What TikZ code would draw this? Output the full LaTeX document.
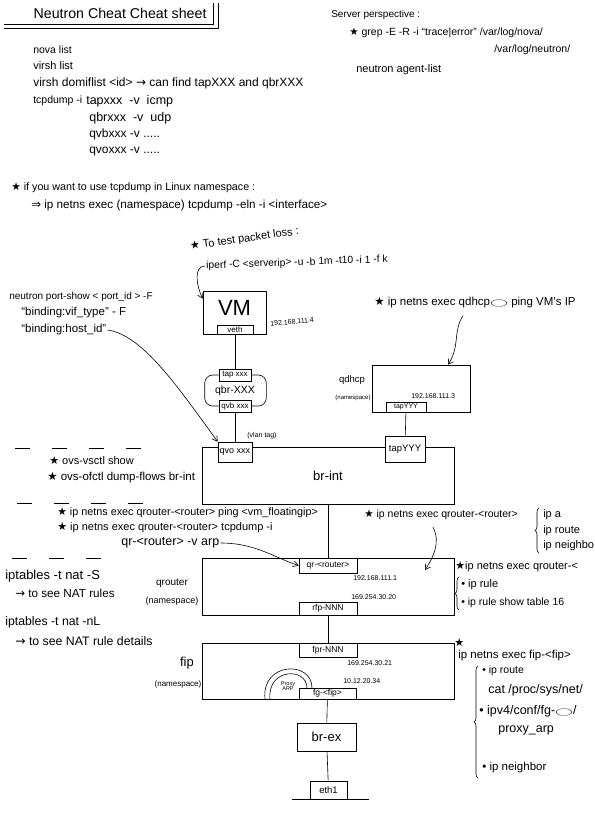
\documentclass[tikz,border=0pt]{standalone}
\usepackage{fontspec}
\setmainfont{Liberation Sans}
\newfontfamily\symfont{DejaVu Sans}
\usepackage{graphicx}
\usetikzlibrary{arrows.meta,positioning,decorations.pathreplacing,calc}

\newcommand{\starmark}{{\symfont\char"2605}}
\newcommand{\ovalmark}{\scalebox{1.5}[0.65]{$\bigcirc$}}
\newcommand{\fsz}[1]{\fontsize{#1}{#1}\selectfont}

\tikzset{
    every picture/.style={
        line width=0.6pt,
        >={Straight Barb[length=5pt,width=6pt]}
    },
    % text styles
    note/.style={anchor=west,inner sep=1pt,font=\fsz{11}},
    smallnote/.style={anchor=west,inner sep=1pt,font=\fsz{10.5}},
    iplabel/.style={anchor=west,inner sep=1pt,font=\fsz{7}},
    nslabel/.style={inner sep=1pt,font=\fsz{7}},
    % box styles
    nsbox/.style={draw,minimum width=252pt,minimum height=57pt},
    port/.style={draw,fill=white,inner sep=0pt,font=\fsz{8}},
    % line styles
    hint/.style={->},
    bracegroup/.style={decorate,decoration={brace,amplitude=4pt}},
    separator/.style={dash pattern=on 15pt off 22pt}
}

\begin{document}
\begin{tikzpicture}[x=1pt,y=-1pt]
\useasboundingbox (0,0) rectangle (595,815);

% Title with double frame
\node[anchor=west,font=\fsz{14.2}] at (30,13) (title) {Neutron Cheat Cheat sheet};
\draw (4,24) -- (213,24) -- (213,3);
\draw (4,28) -- (218,28) -- (218,3);

% Basic commands
\node[note,font=\fsz{10.5}] at (32,50) (nova) {nova list};
\node[note] at (32,66) (virsh) {virsh list};
\node[note,font=\fsz{12}] at (32,83) (domif) {virsh domiflist <id> {\symfont →} can find tapXXX and qbrXXX};
\node[note,font=\fsz{10.5}] at (32,101) (tcpdump) {tcpdump -i};
\node[note,font=\fsz{12.5}] at (85,101) (tcptap) {tapxxx\ \ -v\ \ icmp};
\node[note,font=\fsz{12.5}] at (88,118) (tcpqbr) {qbrxxx\ \ -v\ \ udp};
\node[note,font=\fsz{12}] at (88,134) (tcpqvb) {qvbxxx -v .....};
\node[note,font=\fsz{12}] at (88,152) (tcpqvo) {qvoxxx -v .....};

% Server side
\node[smallnote,font=\fsz{10}] at (330,15) (server) {Server perspective :};
\node[smallnote] at (348,33) (grep) {\starmark{} grep -E -R -i ``trace|error'' /var/log/nova/};
\node[smallnote] at (493,50) (grepneutron) {/var/log/neutron/};
\node[smallnote,font=\fsz{11}] at (355,70) (agents) {neutron agent-list};

% Namespace tcpdump
\node[note,font=\fsz{10.7}] at (10,188) (nstip) {\starmark{} if you want to use tcpdump in Linux namespace :};
\node[note,font=\fsz{11.7}] at (30,205) (nscmd) {{\symfont ⇒} ip netns exec (namespace) tcpdump -eln -i <interface>};

% Packet loss test
\node[smallnote,font=\fsz{11},rotate=8] at (189,247) (losstip) {\starmark{} To test packet loss :};
\node[anchor=west,inner sep=1pt,font=\fsz{10.3},rotate=2] at (205,266) (iperf) {iperf -C <serverip> -u -b 1m -t10 -i 1 -f k};

% Compute side: VM and qbr
\node[draw,minimum width=63pt,minimum height=43pt,label={[yshift=5pt,font=\fsz{22}]center:VM}] at (234.5,312.5) (vm) {};
\node[port,minimum width=36pt,minimum height=9pt] at (235,329.5) (veth) {veth};
\node[iplabel,rotate=5] at (269,324) (vmip) {192.168.111.4};
\node[port,minimum width=32pt,minimum height=12pt] at (235,375) (tapx) {tap xxx};
\node[port,minimum width=32pt,minimum height=12pt] at (235,406) (qvbx) {qvb xxx};
\node[font=\fsz{10.5}] at (235,391) (qbr) {qbr-XXX};
\draw[rounded corners=8pt] (tapx.west) -- ++(-14,0) |- (qvbx.west);
\draw[rounded corners=8pt] (tapx.east) -- ++(15,0) |- (qvbx.east);

% port-show hint
\node[note,font=\fsz{10}] at (8,297) (portshow) {neutron port-show < port\_id > -F};
\node[smallnote,font=\fsz{11.5}] at (20,313) (viftype) {``binding:vif\_type'' - F};
\node[smallnote,font=\fsz{11.5}] at (20,330) (hostid) {``binding:host\_id''};

% br-int
\node[nsbox,font=\fsz{13}] at (328,475.5) (brint) {br-int};
\node[port,minimum width=34pt,minimum height=20pt,font=\fsz{9}] at (235,452) (qvox) {qvo xxx};
\node[nslabel] at (262,436) (vlantag) {(vlan tag)};
\node[port,minimum width=40pt,minimum height=26pt,font=\fsz{9.5}] at (405,449) (tapyint) {tapYYY};

% qdhcp namespace
\node[draw,minimum width=98pt,minimum height=47pt] at (421,388.5) (qdhcp) {};
\node[font=\fsz{9.5}] at (352,380) (qdhcpname) {qdhcp};
\node[nslabel,font=\fsz{6}] at (353,398) (qdhcpns) {(namespace)};
\node[port,minimum width=40pt,minimum height=10pt,font=\fsz{7}] at (406,407) (tapydhcp) {tapYYY};
\node[iplabel] at (410,396) (dhcpip) {192.168.111.3};
\node[smallnote,font=\fsz{11.5}] at (373,303) (dhcpping) {\starmark{} ip netns exec qdhcp\ovalmark{} ping VM's IP};

% ovs commands
\draw[separator] (15,448) -- (152,448);
\node[smallnote,font=\fsz{11}] at (48,461) (vsctl) {\starmark{} ovs-vsctl show};
\node[smallnote,font=\fsz{11.5}] at (46,478) (ofctl) {\starmark{} ovs-ofctl dump-flows br-int};
\draw[separator] (17,503) -- (152,503);

% qrouter namespace
\node[nsbox] at (328.5,586.5) (qrouter) {};
\node[port,minimum width=58pt,minimum height=15pt,font=\fsz{8.5}] at (328,565.5) (qr) {qr-<router>};
\node[port,minimum width=58pt,minimum height=13pt,font=\fsz{8.5}] at (328,608.5) (rfp) {rfp-NNN};
\node[iplabel] at (352,578) (qrip) {192.168.111.1};
\node[iplabel] at (350,597) (rfpip) {169.254.30.20};
\node[font=\fsz{10}] at (172,583) (qroutername) {qrouter};
\node[nslabel,font=\fsz{9}] at (172,601) (qrouterns) {(namespace)};

\node[smallnote,font=\fsz{10.8}] at (56,513) (qrping) {\starmark{} ip netns exec qrouter-<router> ping <vm\_floatingip>};
\node[smallnote,font=\fsz{11}] at (56,528) (qrtcp) {\starmark{} ip netns exec qrouter-<router> tcpdump -i};
\node[smallnote,font=\fsz{12.5}] at (120,543) (qrarp) {qr-<router> -v arp};
\draw[separator] (12,558) -- (118,558);

\node[smallnote] at (363,515) (qrcmd) {\starmark{} ip netns exec qrouter-<router>};
\node[smallnote,font=\fsz{11}] at (542,515) (ipa) {ip a};
\node[smallnote,font=\fsz{11}] at (542,531) (iproute) {ip route};
\node[smallnote,font=\fsz{11}] at (542,546) (ipneigh) {ip neighbo};
\draw[bracegroup] (539,553) -- (539,508);
\coordinate (qrtip) at (425,570);

\node[smallnote,font=\fsz{11}] at (454,567) (rulecmd) {\starmark{}ip netns exec qrouter-<};
\node[smallnote,font=\fsz{11}] at (460,585) (iprule) {• ip rule};
\node[smallnote] at (460,603) (ruletable) {• ip rule show table 16};
\draw[bracegroup] (459,610) -- (459,577);

% NAT rules
\node[note,font=\fsz{13}] at (4,576) (natS) {iptables -t nat -S};
\node[note,font=\fsz{11.7}] at (14,593) (natSinfo) {{\symfont →} to see NAT rules};
\node[note,font=\fsz{12.3}] at (4,622) (natL) {iptables -t nat -nL};
\node[note,font=\fsz{12.3}] at (14,641) (natLinfo) {{\symfont →} to see NAT rule details};

% fip namespace
\node[nsbox,minimum height=56pt] at (328,671) (fip) {};
\node[port,minimum width=58pt,minimum height=14pt,font=\fsz{8.5}] at (328,650) (fpr) {fpr-NNN};
\node[port,minimum width=57pt,minimum height=11pt,font=\fsz{8.5}] at (327.5,693.5) (fg) {fg-<fip>};
\node[iplabel] at (346,663) (fprip) {169.254.30.21};
\node[iplabel] at (342,681) (fgip) {10.12.20.34};
\node[font=\fsz{13}] at (187,663) (fipname) {fip};
\node[nslabel,font=\fsz{8}] at (178,684) (fipns) {(namespace)};
% proxy arp loop
\draw (265,699) .. controls (261,662) and (312,660) .. (312,688);
\draw (270,699) .. controls (267,668) and (307,667) .. (307,688);
\node[nslabel,align=center,font=\fsz{5.5}] at (288,686) (proxyarp) {Proxy\\ARP};

\node[smallnote,font=\fsz{11}] at (453,643) (fipstar) {\starmark};
\node[smallnote,font=\fsz{11.5}] at (457,656) (fipcmd) {ip netns exec fip-<fip>};
\node[smallnote,font=\fsz{10.5}] at (481,671) (fiproute) {• ip route};
\node[smallnote,font=\fsz{12.5}] at (487,690) (catproc) {cat /proc/sys/net/};
\node[smallnote,font=\fsz{12.5}] at (478,711) (ipv4conf) {• ipv4/conf/fg-\ovalmark/};
\node[smallnote,font=\fsz{12.5}] at (497,730) (proxyarpfile) {proxy\_arp};
\node[smallnote,font=\fsz{11.5}] at (481,768) (fipneigh) {• ip neighbor};
\draw[bracegroup] (478,778) -- (478,666);

% br-ex and uplink
\node[draw,minimum width=59pt,minimum height=28pt,font=\fsz{13}] at (326.5,737) (brex) {br-ex};
\node[draw,minimum width=37pt,minimum height=18pt,font=\fsz{9.5}] at (328.5,790) (eth) {eth1};
\draw ([xshift=-18pt]eth.south west) -- ([xshift=22pt]eth.south east);

% Links
\draw (veth) -- (tapx);
\draw (qvbx) -- (qvox);
\draw (tapydhcp) -- (tapyint);
\draw (brint.south) -- (qr.north);
\draw (rfp) -- (fpr);
\draw (fg) -- (brex);
\draw (brex) -- (eth);

% Hint arrows
\draw[hint] (iperf.west) .. controls +(-12,0) and +(-6,-12) .. ([yshift=-8pt]vm.north west);
\draw[hint] (hostid.east) .. controls +(35,5) and +(-40,-55) .. (qvox.north west);
\draw[hint] ([xshift=90pt,yshift=-6pt]dhcpping.south west) .. controls +(-10,15) and +(12,-18) .. ([xshift=27pt]qdhcp.north);
\draw[hint] (qrarp.east) .. controls +(35,0) and +(-25,-8) .. (qr.west);
\draw[hint] ([xshift=70pt,yshift=-6pt]qrcmd.south west) .. controls +(8,15) and +(8,-12) .. (qrtip);

\end{tikzpicture}
\end{document}
